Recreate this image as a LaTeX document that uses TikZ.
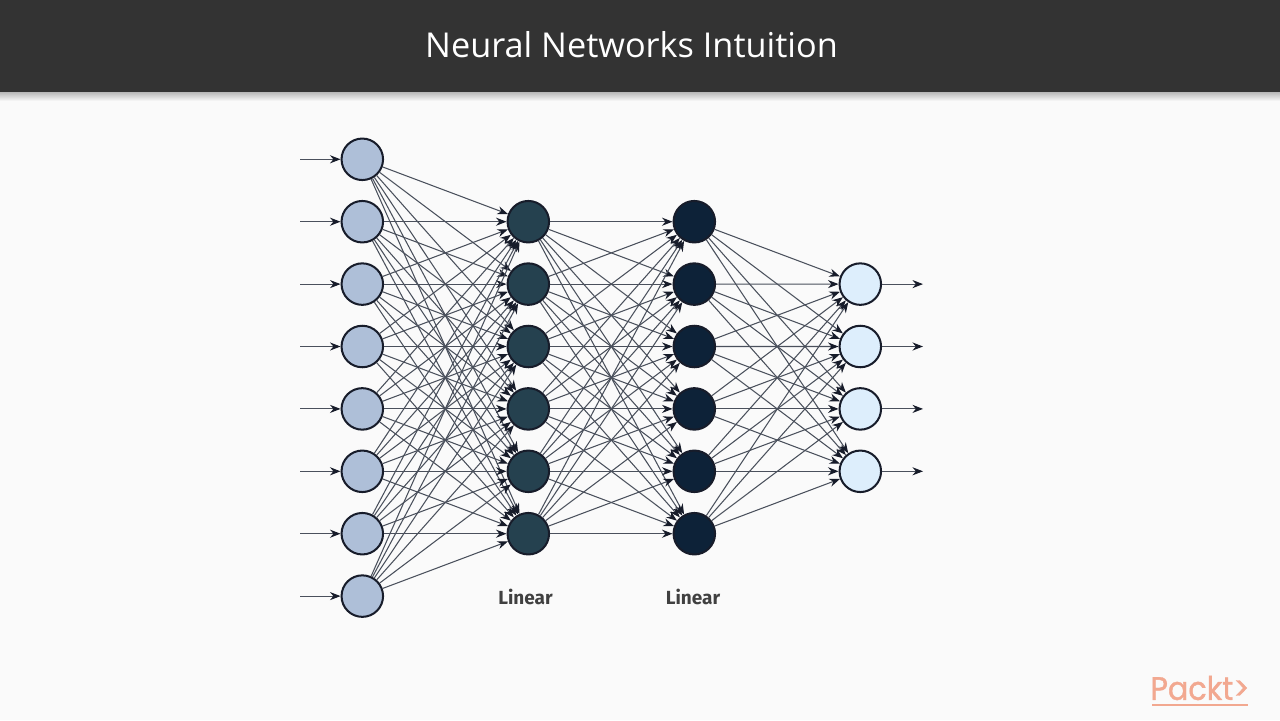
\documentclass[tikz,border=0pt]{standalone}
\usepackage{fontspec}
\setmainfont{Open Sans}
\newfontfamily\logofont[FakeBold=1.2]{Poppins}
\newfontfamily\labelfont{Fira Sans}
\usetikzlibrary{arrows.meta}
\definecolor{pagebg}{HTML}{FAFAFA}
\definecolor{barcol}{HTML}{333333}
\definecolor{inputcol}{HTML}{AEBFD8}
\definecolor{hiddencol}{HTML}{25414F}
\definecolor{deepcol}{HTML}{0D2238}
\definecolor{outputcol}{HTML}{DDEEFC}
\definecolor{edgecol}{HTML}{4A505C}
\definecolor{tipcol}{HTML}{171C2A}
\definecolor{logocol}{HTML}{F2A890}
\tikzset{
  neuron/.style={circle,draw=tipcol,line width=1.15pt,minimum size=41.5*0.02cm,inner sep=0pt},
  link/.style={draw=edgecol,line width=0.6pt,-{Stealth[length=6pt,width=4.6pt,color=tipcol]}},
  layername/.style={font=\labelfont\bfseries\fontsize{10.8}{12}\selectfont,text=black!75}
}
\begin{document}
\begin{tikzpicture}[x=0.02cm,y=-0.02cm]
\useasboundingbox (0,0) rectangle (1280,720);
\fill[pagebg] (0,0) rectangle (1280,720);
\fill[top color=black!28,bottom color=pagebg] (0,92) rectangle (1280,101);
\fill[barcol] (0,0) rectangle (1280,92);
\node[text=white,font=\fontsize{19.5}{24}\selectfont] (title) at (631.5,45) {Neural Networks Intuition};
% the four layers
\foreach \i in {1,...,8}
  \node[neuron,fill=inputcol] (in\i) at (362.3,{159.3+62.4*(\i-1)}) {};
\foreach \i in {1,...,6} {
  \node[neuron,fill=hiddencol] (a\i) at (528.3,{221.7+62.4*(\i-1)}) {};
  \node[neuron,fill=deepcol] (b\i) at (694.3,{221.7+62.4*(\i-1)}) {};
}
\foreach \i in {1,...,4}
  \node[neuron,fill=outputcol] (out\i) at (860.3,{284.1+62.4*(\i-1)}) {};
% connections
\foreach \i in {1,...,8}
  \foreach \j in {1,...,6}
    \draw[link] (in\i) -- (a\j);
\foreach \i in {1,...,6}
  \foreach \j in {1,...,6}
    \draw[link] (a\i) -- (b\j);
\foreach \i in {1,...,6}
  \foreach \j in {1,...,4}
    \draw[link] (b\i) -- (out\j);
% free ends on the left and right
\foreach \i in {1,...,8} {
  \coordinate (s\i) at (300,{159.3+62.4*(\i-1)});
  \draw[link] (s\i) -- (in\i);
}
\foreach \i in {1,...,4} {
  \coordinate (e\i) at (923,{284.1+62.4*(\i-1)});
  \draw[link] (out\i) -- (e\i);
}
\node[layername] (lin1) at (525.5,597) {Linear};
\node[layername] (lin2) at (693,597) {Linear};
% logo
\node[text=logocol,font=\logofont\fontsize{18.5}{20}\selectfont,inner sep=0pt,xscale=.93] (logo) at (1200,688) {Packt>};
\fill[logocol] (1152,703.5) rectangle (1248,706);
\end{tikzpicture}
\end{document}
